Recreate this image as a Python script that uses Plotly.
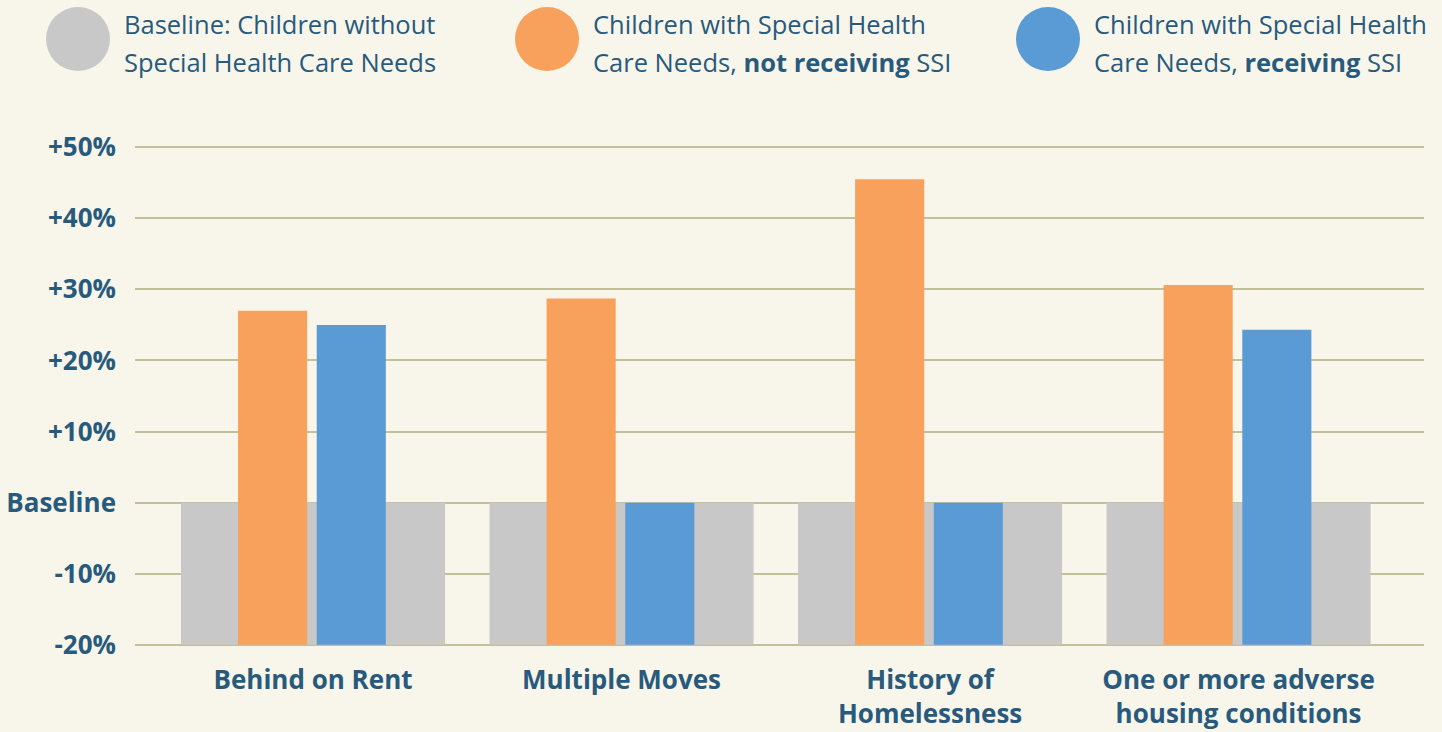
import plotly.graph_objects as go

categories = ["Behind on Rent", "Multiple Moves", "History of<br>Homelessness", "One or more adverse<br>housing conditions"]
baseline_vals = [0, 0, 0, 0]
not_ssi_vals = [27.0, 28.7, 45.5, 30.6]
ssi_vals = [25.0, 0, 0, 24.3]
tick_vals = [50, 40, 30, 20, 10, 0, -10, -20]
tick_text = ["+50%", "+40%", "+30%", "+20%", "+10%", "Baseline", "-10%", "-20%"]
legend_items = [
    (["Baseline: Children without", "Special Health Care Needs"], "#c8c8c8"),
    (["Children with Special Health", "Care Needs, <b>not receiving</b> SSI"], "#f8a15c"),
    (["Children with Special Health", "Care Needs, <b>receiving</b> SSI"], "#5b9bd5"),
]

FLOOR = -20
TEXT = "#285a7d"
FONT = "Open Sans"
W, H = 1442, 732
ML, MR, MT, MB = 135, 18, 145, 85

fig = go.Figure()
fig.add_trace(go.Bar(x=categories, y=[v - FLOOR for v in baseline_vals], base=FLOOR,
                     marker=dict(color="#c8c8c8", line=dict(width=0)), width=0.856, offset=-0.428))
fig.add_trace(go.Bar(x=categories, y=[v - FLOOR for v in not_ssi_vals], base=FLOOR,
                     marker=dict(color="#f8a15c", line=dict(width=0)), width=0.224, offset=-0.243))
fig.add_trace(go.Bar(x=categories, y=[v - FLOOR for v in ssi_vals], base=FLOOR,
                     marker=dict(color="#5b9bd5", line=dict(width=0)), width=0.224, offset=0.012))

pw = W - ML - MR
ph = H - MT - MB
def px_x(px):
    return (px - ML) / pw
def px_y(py):
    return (H - MB - py) / ph

shapes = []
annotations = []
cx_list = [78, 547, 1048]
for (lines, color), cx in zip(legend_items, cx_list):
    shapes.append(dict(type="circle", xref="paper", yref="paper", xsizemode="pixel", ysizemode="pixel",
                       xanchor=px_x(cx), yanchor=px_y(39), x0=-32, x1=32, y0=-32, y1=32,
                       fillcolor=color, line=dict(width=0), layer="above"))
    for line, ly in zip(lines, [24, 62]):
        annotations.append(dict(xref="paper", yref="paper", x=px_x(cx + 44), y=px_y(ly),
                                xanchor="left", yanchor="middle", align="left", showarrow=False,
                                text=line, font=dict(family=FONT, size=25.5, color=TEXT)))

fig.update_layout(
    width=W, height=H, barmode="overlay", showlegend=False,
    paper_bgcolor="#f8f6ea", plot_bgcolor="#f8f6ea",
    margin=dict(l=ML, r=MR, t=MT, b=MB, autoexpand=False),
    shapes=shapes, annotations=annotations,
    xaxis=dict(range=[-0.577, 3.601], showgrid=False, zeroline=False, showline=False, automargin=False,
               tickfont=dict(family=FONT, size=26, color=TEXT), ticklabelstandoff=15,
               tickvals=categories, ticktext=["<b>" + c.replace("<br>", "</b><br><b>") + "</b>" for c in categories]),
    yaxis=dict(range=[-20.3, 50.3], tickvals=tick_vals, ticktext=["<b>" + t + "</b>" for t in tick_text],
               showgrid=True, gridcolor="#c2c09a", gridwidth=2, zeroline=False, showline=False, automargin=False,
               tickfont=dict(family=FONT, size=26, color=TEXT), ticklabelstandoff=18),
)
fig.write_html("out.html", config={"displayModeBar": False},
               post_script="document.body.style.margin='0';document.body.style.padding='0';document.body.style.background='#f8f6ea';document.body.style.overflow='hidden';")
